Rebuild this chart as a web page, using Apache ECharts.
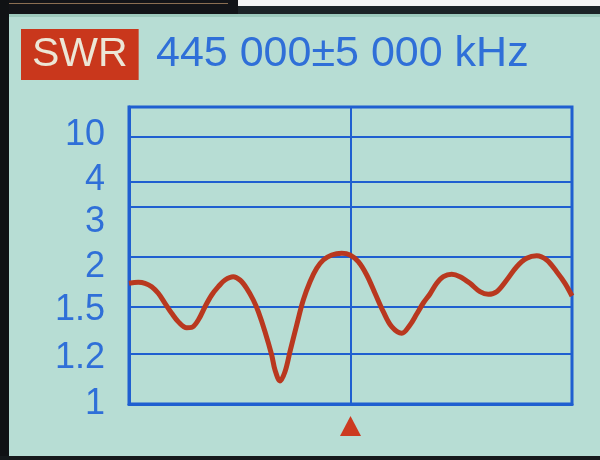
<!DOCTYPE html>
<html>
<head>
<meta charset="utf-8">
<script src="https://cdn.jsdelivr.net/npm/echarts@6/dist/echarts.min.js"></script>
<style>
html,body{margin:0;padding:0;background:#b7ddd4;}
#chart{width:600px;height:460px;}
</style>
</head>
<body>
<div id="chart"></div>
<script>
// ---- data ----
const titleMode = 'SWR';
const titleRange = '445 000±5 000 kHz';
const freqKHz = [440000,440210,440361,440512,440661,440813,440964,441113,441302,441415,
  441564,441716,441867,442016,442167,442354,442505,442657,442806,442919,
  443070,443221,443296,443409,443521,443634,443785,443934,444086,444237,
  444386,444576,444801,444989,445176,445366,445553,445740,445930,446156,
  446343,446494,446643,446794,446946,447095,447284,447472,447697,447923,
  448110,448300,448526,448752,448977,449203,449429,449654,449842,450000];
const swrValues = [1.737,1.747,1.737,1.703,1.637,1.537,1.460,1.406,1.368,1.370,
  1.417,1.503,1.620,1.703,1.770,1.803,1.770,1.687,1.570,1.470,
  1.342,1.196,1.136,1.092,1.129,1.215,1.385,1.570,1.753,1.887,
  1.970,2.040,2.074,2.040,1.953,1.820,1.637,1.470,1.374,1.332,
  1.385,1.455,1.540,1.630,1.737,1.803,1.827,1.803,1.737,1.653,
  1.627,1.653,1.770,1.903,1.987,2.026,1.970,1.853,1.737,1.610];
const swrGridValues = [1, 1.2, 1.5, 2, 3, 4, 10];
const yTickLabels = ['1', '1.2', '1.5', '2', '3', '4', '10'];
const markerFreq = [445000];

// ---- the instrument's non-linear SWR scale (axis units) ----
const scalePos = [0, 50, 97, 147, 197, 222, 267];
const scaleTop = 297;
const labelPos = [0, 46, 94, 137, 182, 224, 269];

function swrToPos(s) {
  for (let i = 0; i < swrGridValues.length - 1; i++) {
    const a = swrGridValues[i], b = swrGridValues[i + 1];
    if (s <= b || i === swrGridValues.length - 2) {
      return scalePos[i] + (s - a) / (b - a) * (scalePos[i + 1] - scalePos[i]);
    }
  }
}

const BLUE = '#1f5fd0';
const TEXTBLUE = '#2f6fd8';
const RED = '#b9381f';
const FONT = '"Liberation Sans", Arial, sans-serif';

const chart = echarts.init(document.getElementById('chart'), null, {renderer: 'canvas'});
chart.setOption({
  backgroundColor: '#b7ddd4',
  animation: false,
  title: [
    {
      text: titleMode, left: 21, top: 29, padding: [0, 11],
      backgroundColor: '#c9371c',
      textStyle: {color: '#ece6d6', fontSize: 41, fontWeight: 'normal', fontFamily: FONT, lineHeight: 51}
    },
    {
      text: titleRange, left: 156, top: 29, padding: 0,
      textStyle: {color: TEXTBLUE, fontSize: 43, fontWeight: 'normal', fontFamily: FONT, lineHeight: 51}
    }
  ],
  graphic: [
    {type: 'rect', z: 100, shape: {x: 0, y: 0, width: 238, height: 14}, style: {fill: '#121418'}},
    {type: 'rect', z: 100, shape: {x: 0, y: 3, width: 228, height: 1}, style: {fill: '#8a6e52'}},
    {type: 'rect', z: 100, shape: {x: 238, y: 0, width: 362, height: 6}, style: {fill: '#f4f4f4'}},
    {type: 'rect', z: 100, shape: {x: 238, y: 6, width: 362, height: 8}, style: {fill: '#1c2327'}},
    {type: 'rect', z: 100, shape: {x: 9, y: 14, width: 591, height: 3}, style: {fill: '#9cc9bc'}},
    {type: 'rect', z: 100, shape: {x: 0, y: 0, width: 9, height: 460}, style: {fill: '#101214'}},
    {type: 'rect', z: 100, shape: {x: 0, y: 456, width: 600, height: 4}, style: {fill: '#15191b'}}
  ],
  grid: {
    left: 129, right: 28, top: 107, bottom: 56,
    show: true, borderColor: BLUE, borderWidth: 3, backgroundColor: 'transparent'
  },
  xAxis: {
    type: 'value', min: 440000, max: 450000, interval: 5000,
    axisLine: {show: true, lineStyle: {color: BLUE, width: 3}},
    axisTick: {show: false},
    axisLabel: {show: false},
    splitLine: {show: true, lineStyle: {color: BLUE, width: 2}}
  },
  yAxis: {
    type: 'value', min: 0, max: scaleTop,
    axisLine: {show: true, lineStyle: {color: BLUE, width: 3}},
    axisTick: {show: false, customValues: scalePos},
    axisLabel: {
      show: true, customValues: labelPos, margin: 24,
      color: TEXTBLUE, fontSize: 36, fontFamily: FONT,
      formatter: function (v) {
        const i = labelPos.indexOf(v);
        return i >= 0 ? yTickLabels[i] : '';
      }
    },
    splitLine: {show: true, lineStyle: {color: BLUE, width: 2}}
  },
  series: [{
    type: 'line',
    data: freqKHz.map((f, i) => [f, swrToPos(swrValues[i])]),
    smooth: 0.35,
    showSymbol: false,
    lineStyle: {color: RED, width: 5},
    clip: false,
    markPoint: {
      silent: true,
      symbol: 'triangle',
      symbolSize: [21, 20],
      symbolOffset: [0, 22],
      itemStyle: {color: '#cc3a20'},
      label: {show: false},
      data: markerFreq.map(f => ({coord: [f, 0]}))
    }
  }]
});
</script>
</body>
</html>
